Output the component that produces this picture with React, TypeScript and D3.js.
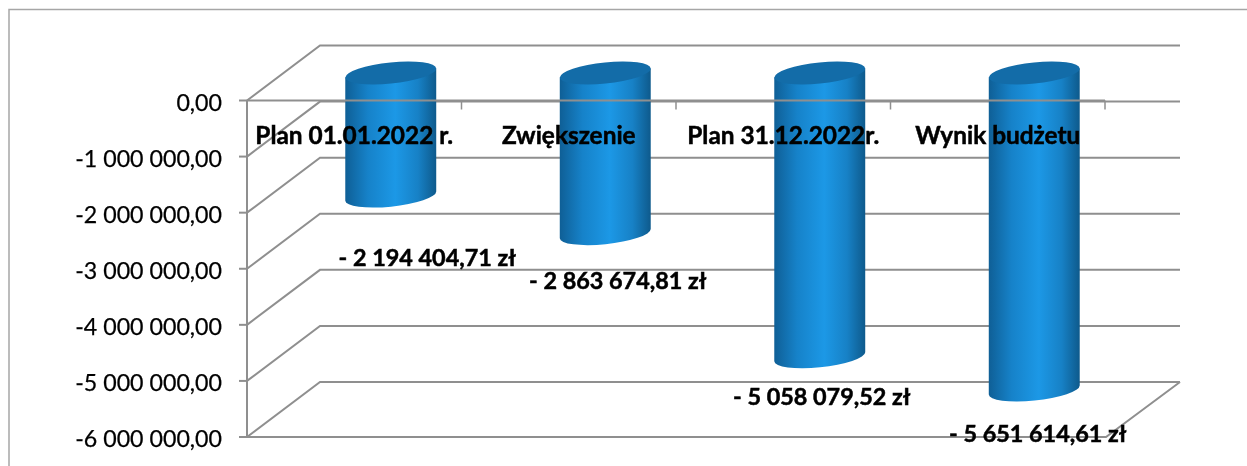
import React from "react";
import * as d3 from "d3";

const categories = ["Plan 01.01.2022 r.", "Zwiększenie", "Plan 31.12.2022r.", "Wynik budżetu"];
const values = [-2194404.71, -2863674.81, -5058079.52, -5651614.61];
const axisTicks = [0, -1000000, -2000000, -3000000, -4000000, -5000000, -6000000];

// layout only
const W = 1247, H = 466;
const depthX = 73, depthY = -55;
const labelDx = [36.5, 12.5, 2, 3.5];
const labelDy = [62, 47, 40, 44];

const locale = d3.formatLocale({ decimal: ",", thousands: " ", grouping: [3], currency: ["", " zł"], minus: "-" } as any);
const fmt = locale.format(",.2f");

const FONT = "Lato, 'Noto Sans', sans-serif";
const GRID = "#8f8f8f";

export default function App() {
  const y = d3.scaleLinear().domain([0, -6000000]).range([100.5, 437]);
  const x = d3.scaleBand<string>().domain(categories).range([247, 1105]);
  const barW = x.bandwidth() * 0.424;
  const rx = barW / 2, ry = 10.5, rot = -6;
  const tilt = 4.6;

  return (
    <svg width={W} height={H} style={{ position: "absolute", left: 0, top: 0, display: "block" }}>
      <defs>
        <linearGradient id="cyl" x1="0" x2="1" y1="0" y2="0">
          <stop offset="0" stopColor="#0f5f96" />
          <stop offset="0.25" stopColor="#1682c9" />
          <stop offset="0.55" stopColor="#1c98e6" />
          <stop offset="0.8" stopColor="#1781c6" />
          <stop offset="1" stopColor="#0e5a8c" />
        </linearGradient>
        <filter id="soft" x="-5%" y="-20%" width="110%" height="140%">
          <feGaussianBlur stdDeviation="0.3" />
        </filter>
      </defs>
      <rect width={W} height={H} fill="#fff" />
      <rect x={9} y={9.5} width={W + 20} height={H + 20} fill="none" stroke="#a6a6a6" strokeWidth={1.5} />

      {/* back wall + left wall gridlines */}
      <g stroke={GRID} strokeWidth={2} fill="none">
        {axisTicks.map((t) => (
          <path key={t} d={`M247,${y(t)}L${247 + depthX},${y(t) + depthY}L${1105 + depthX + 2},${y(t) + depthY}`} />
        ))}
        {/* floor */}
        <path d={`M247,${y(-6000000)}L1106,${y(-6000000)}L${1105 + depthX + 2},${y(-6000000) + depthY}`} />
      </g>

      {/* cylinders */}
      {values.map((v, i) => {
        const cx = x(categories[i])! + x.bandwidth() / 2 + depthX / 2;
        const top = y(0) + depthY / 2;
        const bot = y(v) + depthY / 2;
        const l = cx - rx, r = cx + rx;
        return (
          <g key={categories[i]}>
            <path
              d={`M${l},${top + tilt}L${l},${bot + tilt}A${rx},${ry},${rot},0,0,${r},${bot - tilt}L${r},${top - tilt}Z`}
              fill="url(#cyl)"
            />
            <path
              d={`M${l},${top + tilt}A${rx},${ry},${rot},1,1,${r},${top - tilt}A${rx},${ry},${rot},1,1,${l},${top + tilt}Z`}
              fill="#136ca8"
            />
          </g>
        );
      })}

      {/* front axis */}
      <g stroke={GRID} strokeWidth={2} fill="none">
        <path d={`M247,${y(0)}V${y(-6000000)}`} />
        <path d={`M247,${y(0)}H1105`} />
        {axisTicks.map((t) => (
          <path key={t} d={`M239,${y(t)}H247`} />
        ))}
        {x.domain().map((c) => (
          <path key={c} d={`M${x(c)! + x.bandwidth()},${y(0)}v9`} strokeWidth={1.5} />
        ))}
      </g>

      <g fontFamily={FONT} fill="#000" stroke="#000" filter="url(#soft)">
        {axisTicks.map((t) => (
          <text key={t} x={222} y={y(t) + 2} dy="0.36em" fontSize={23.2} strokeWidth={0.25} textAnchor="end">
            {fmt(t)}
          </text>
        ))}
        {categories.map((c) => (
          <text key={c} x={x(c)! + x.bandwidth() / 2} y={135.5} dy="0.36em" fontSize={24.4} fontWeight={700} strokeWidth={0.5} textAnchor="middle">
            {c}
          </text>
        ))}
        {values.map((v, i) => (
          <text
            key={categories[i]}
            x={x(categories[i])! + x.bandwidth() / 2 + depthX / 2 + labelDx[i]}
            y={y(v) + depthY / 2 + labelDy[i]}
            dy="0.36em"
            fontSize={23.4}
            fontWeight={700}
            strokeWidth={0.5}
            textAnchor="middle"
          >
            {`- ${fmt(-v)} zł`}
          </text>
        ))}
      </g>
    </svg>
  );
}
